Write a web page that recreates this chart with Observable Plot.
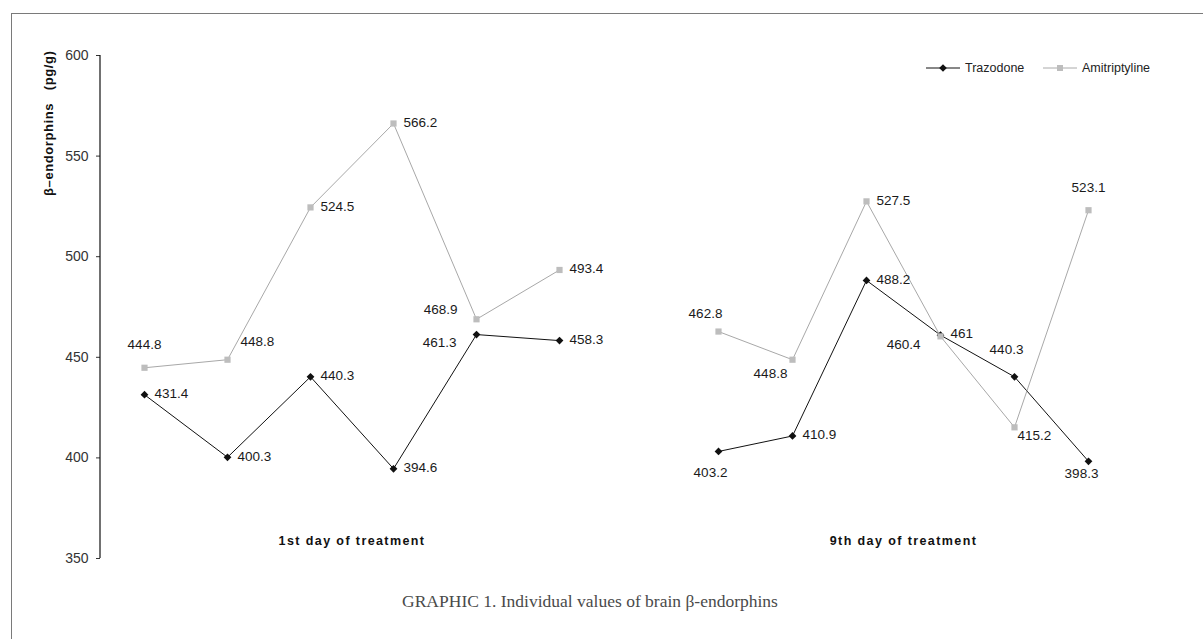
<!DOCTYPE html>
<html>
<head>
<meta charset="utf-8">
<script src="https://cdn.jsdelivr.net/npm/d3@7"></script>
<script src="https://cdn.jsdelivr.net/npm/@observablehq/plot@0.6"></script>
<style>
  html, body { margin: 0; padding: 0; background: #fff; }
  #page { position: relative; width: 1203px; height: 639px; overflow: hidden;
          font-family: "Liberation Sans", Arial, sans-serif; color: #222; }
  #frame { position: absolute; left: 11px; top: 13px; width: 1400px; height: 800px;
           border-left: 1.5px solid #7a7a7a; border-top: 1.5px solid #7a7a7a; }
  #p1 { position: absolute; left: 0; top: 0; }
  #p2 { position: absolute; left: 620px; top: 0; }
  .lg { position: absolute; top: 61px; font-size: 12.5px; line-height: 14px; color: #222; }
  .sw { position: absolute; top: 63px; }
  #caption { position: absolute; top: 591px; left: 0; width: 1180px; text-align: center;
             font-family: "Liberation Serif", "DejaVu Serif", serif; font-size: 17.5px; color: #4a4a4a; }
</style>
</head>
<body>
<div id="page">
  <div id="frame"></div>
  <div id="p1"></div>
  <div id="p2"></div>
  <svg class="sw" style="left:926px" width="34" height="10">
    <line x1="0" x2="34" y1="5" y2="5" stroke="#111" stroke-width="1"/>
    <path d="M17,1.2 L20.8,5 L17,8.8 L13.2,5 Z" fill="#111"/>
  </svg>
  <div class="lg" style="left:965px">Trazodone</div>
  <svg class="sw" style="left:1043px" width="34" height="10">
    <line x1="0" x2="34" y1="5" y2="5" stroke="#aaa" stroke-width="1"/>
    <rect x="14" y="2" width="6" height="6" fill="#bdbdbd"/>
  </svg>
  <div class="lg" style="left:1082px">Amitriptyline</div>
  <div id="caption">GRAPHIC 1. Individual values of brain β-endorphins</div>
</div>
<script>
// ---- data ----
const samples = ["1", "2", "3", "4", "5", "6"];
const drugs = ["Trazodone", "Amitriptyline"];
const dayTitles = ["1st day of treatment", "9th day of treatment"];
const yTicks = [350, 400, 450, 500, 550, 600];
const yLabel = "β–endorphins\u00a0\u00a0\u00a0(pg/g)";

const trazodoneDay1     = [431.4, 400.3, 440.3, 394.6, 461.3, 458.3];
const amitriptylineDay1 = [444.8, 448.8, 524.5, 566.2, 468.9, 493.4];
const trazodoneDay9     = [403.2, 410.9, 488.2, 461, 440.3, 398.3];
const amitriptylineDay9 = [462.8, 448.8, 527.5, 460.4, 415.2, 523.1];

// where each value label sits relative to its point
const placeTrazodoneDay1     = ["right", "right", "right", "right", "leftLow", "right"];
const placeAmitriptylineDay1 = ["above", "aboveRight", "right", "right", "leftHigh", "right"];
const placeTrazodoneDay9     = ["below", "right", "right", "right", "aboveLeft", "belowNear"];
const placeAmitriptylineDay9 = ["aboveLeft2", "belowLeft", "right", "leftLow", "belowRight", "above"];

// ---- label placement styles ----
const placements = {
  right:      {dx: 10,  dy: -1,  textAnchor: "start"},
  leftLow:    {dx: -20, dy: 8,   textAnchor: "end"},
  leftHigh:   {dx: -19, dy: -10, textAnchor: "end"},
  above:      {dx: 0,   dy: -23, textAnchor: "middle"},
  aboveLeft:  {dx: -8,  dy: -27, textAnchor: "middle"},
  aboveLeft2: {dx: -13, dy: -18, textAnchor: "middle"},
  aboveRight: {dx: 13,  dy: -18, textAnchor: "start"},
  below:      {dx: -8,  dy: 21,  textAnchor: "middle"},
  belowNear:  {dx: -7,  dy: 12,  textAnchor: "middle"},
  belowLeft:  {dx: -22, dy: 14,  textAnchor: "middle"},
  belowRight: {dx: 3,   dy: 8,   textAnchor: "start"}
};

function rowsFor(traz, amit, pTraz, pAmit) {
  const rows = [];
  samples.forEach((s, i) => rows.push({sample: s, value: traz[i], drug: drugs[0], place: pTraz[i]}));
  samples.forEach((s, i) => rows.push({sample: s, value: amit[i], drug: drugs[1], place: pAmit[i]}));
  return rows;
}

const HEIGHT = 600;

function makeDay(rows, title, {width, marginLeft, marginRight, showY}) {
  const marks = [
    Plot.line(rows, {x: "sample", y: "value", z: "drug", stroke: "drug", strokeWidth: 1}),
    Plot.dot(rows, {x: "sample", y: "value", symbol: "drug", fill: "drug", r: 3.5, stroke: null})
  ];
  for (const [key, p] of Object.entries(placements)) {
    const sub = rows.filter(d => d.place === key);
    if (sub.length) marks.push(Plot.text(sub, {
      x: "sample", y: "value", text: d => String(d.value),
      dx: p.dx, dy: p.dy, textAnchor: p.textAnchor, fontSize: 13.5, fill: "#1a1a1a"
    }));
  }
  marks.push(Plot.text([title], {frameAnchor: "bottom", dy: -14, fontWeight: "bold", fontSize: 12.5, fill: "#111"}));
  if (showY) {
    marks.push(Plot.axisY(yTicks, {tickSize: 4, tickPadding: 8, fontSize: 14, label: null, color: "#333"}));
    marks.push(Plot.text([yLabel], {frameAnchor: "top-left", rotate: -90, textAnchor: "end",
      dx: -57, dy: -5, fontWeight: "bold", fontSize: 13, fill: "#111"}));
  }
  const plot = Plot.plot({
    width, height: HEIGHT, marginTop: 55, marginBottom: 42, marginLeft, marginRight,
    style: {fontFamily: "'Liberation Sans', Arial, sans-serif", background: "transparent", color: "#222"},
    x: {type: "point", domain: samples, padding: 0.5, axis: null},
    y: {domain: [350, 600], axis: null},
    color: {domain: drugs, range: ["#111111", "#a8a8a8"]},
    symbol: {domain: drugs, range: ["diamond2", "square"]},
    marks
  });
  // squares lighter than their connecting line
  d3.select(plot).selectAll("path").filter(function () {
    return this.getAttribute("fill") === "#a8a8a8";
  }).attr("fill", "#bdbdbd");
  d3.select(plot).selectAll("text").filter(function () { return this.textContent === title; })
    .style("letter-spacing", "1.4px");
  d3.select(plot).selectAll("text").filter(function () { return this.textContent === yLabel; })
    .style("letter-spacing", "0.6px");
  if (showY) {
    const yr = plot.scale("y").range;
    d3.select(plot).append("line")
      .attr("x1", marginLeft).attr("x2", marginLeft)
      .attr("y1", yr[0]).attr("y2", yr[1])
      .attr("stroke", "#111").attr("stroke-width", 1.2);
  }
  return plot;
}

document.getElementById("p1").appendChild(
  makeDay(rowsFor(trazodoneDay1, amitriptylineDay1, placeTrazodoneDay1, placeAmitriptylineDay1),
          dayTitles[0], {width: 620, marginLeft: 100, marginRight: 17, showY: true}));
document.getElementById("p2").appendChild(
  makeDay(rowsFor(trazodoneDay9, amitriptylineDay9, placeTrazodoneDay9, placeAmitriptylineDay9),
          dayTitles[1], {width: 583, marginLeft: 59, marginRight: 76, showY: false}));
</script>
</body>
</html>
